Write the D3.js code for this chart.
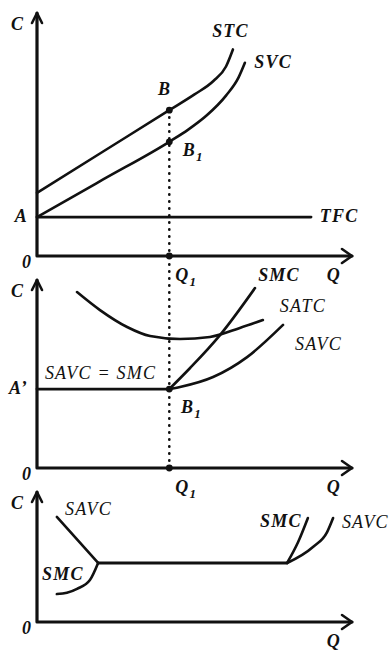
<!DOCTYPE html>
<html>
<head>
<meta charset="utf-8">
<script src="https://cdn.jsdelivr.net/npm/d3@7"></script>
<style>
	body { margin: 0; background: #fff; }
	svg { display: block; }
	text { font-family: 'Liberation Serif', 'Times New Roman', serif; font-style: italic; font-size: 18px; fill: #111; letter-spacing: 1.2px; }
	.b { font-weight: bold; }
</style>
</head>
<body>
<svg id="chart" width="392" height="651"></svg>
<script>

// top panel: total costs
const q1 = 42
const tfc = 16
const tfcEnd = 87
const stc = [[0, 26], [21, 43], [42, 60], [50, 66.5], [56, 72], [60, 78], [62.2, 85]]
const svc = [[0, 16], [21, 31.5], [42, 47], [48, 52], [54, 58], [60, 66], [64, 73.5], [66, 79.5]]

// middle panel: unit costs
const flatLevel = 42
const satc = [[12.7, 93.6], [20, 84], [28.6, 75], [35.9, 70.2], [45.4, 68.6], [54.9, 69.7], [64.4, 74.5], [71.7, 78.7]]
const smc = [[42, 42], [48.6, 53.2], [58.1, 70.7], [69.2, 95.7]]
const savc = [[42, 42], [45.4, 43.1], [55.9, 48.4], [66.7, 59], [78.1, 76.1]]

// bottom panel: flat stretch
const savcFall = [[6.3, 80.8], [19.4, 45.4]]
const plateau = [[19.4, 45.4], [79.4, 45.4]]
const savcRise = [[79.4, 45.4], [87.6, 57.7], [92.1, 69.2], [94, 80]]
const smcLow = [[6.3, 21.5], [9.5, 22.5], [12.7, 25.5], [16.8, 32.3], [19.4, 45.4]]
const smcRise = [[79.4, 45.4], [82.9, 61.5], [86, 80]]

const labels = [
	{ p: 0, t: 'STC', x: 55.6, y: 90, b: true },
	{ p: 0, t: 'SVC', x: 69, y: 77.4, b: true },
	{ p: 0, t: 'B', x: 38.4, y: 66.3, b: true },
	{ p: 0, t: 'B', s: '1', x: 46.3, y: 41.2, b: true },
	{ p: 0, t: 'TFC', x: 89.8, y: 14, b: true },
	{ p: 1, t: 'SMC', x: 70.2, y: 99.5, b: true },
	{ p: 1, t: 'SATC', x: 77.1, y: 83 },
	{ p: 1, t: 'SAVC', x: 81.9, y: 62.8 },
	{ p: 1, t: 'SAVC = SMC', x: 2.5, y: 47.3 },
	{ p: 1, t: 'B', s: '1', x: 45.7, y: 29.3, b: true },
	{ p: 2, t: 'SAVC', x: 8.9, y: 82.3 },
	{ p: 2, t: 'SMC', x: 1.6, y: 32.3, b: true },
	{ p: 2, t: 'SMC', x: 70.8, y: 73, b: true },
	{ p: 2, t: 'SAVC', x: 96.8, y: 72.3 }
]

const panels = [
	{ top: 13, base: 256, origin: 'A', level: tfc, q: true },
	{ top: 280, base: 468, origin: 'A\u2019', level: flatLevel, q: true },
	{ top: 492, base: 622, q: false }
]

const x = d3.scaleLinear().domain([0, 100]).range([37, 352])
panels.forEach(p => {
	p.y = d3.scaleLinear().domain([0, 100]).range([p.base, p.top])
})

const svg = d3.select('#chart')
svg.append('rect').attr('width', 392).attr('height', 651).attr('fill', '#fff')

const curve = (p, pts, c) => d3.line()
	.x(d => x(d[0]))
	.y(d => p.y(d[1]))
	.curve(c || d3.curveMonotoneX)(pts)

const stroke = (sel, w) => sel
	.style('fill', 'none')
	.style('stroke', '#111')
	.attr('stroke-width', w)
	.attr('stroke-linecap', 'round')
	.attr('stroke-linejoin', 'round')

const addText = (t, sub, px, py, bold, anchor) => {
	const el = svg.append('text')
		.attr('x', px)
		.attr('y', py)
		.attr('class', bold ? 'b' : null)
		.attr('text-anchor', anchor || 'start')
		.text(t)
	if (sub) {
		el.append('tspan')
			.attr('dy', 5)
			.style('font-size', '13px')
			.text(sub)
	}
}

// axes with open arrow heads
panels.forEach(p => {
	const x0 = x(0), y0 = p.y(0)
	svg.append('path')
		.attr('d', `M${x0},${p.top}V${y0}H${x(100)}`)
		.call(stroke, 3.2)
	svg.append('path')
		.attr('d', `M${x0 - 5},${p.top + 10}L${x0},${p.top}L${x0 + 5},${p.top + 10}`)
		.call(stroke, 2.6)
	svg.append('path')
		.attr('d', `M${x(100) - 10},${y0 - 7}L${x(100)},${y0}L${x(100) - 10},${y0 + 7}`)
		.call(stroke, 2.6)
	addText('C', null, x0 - 26, p.top + 17, true)
	addText('0', null, x0 - 15, y0 + 12, true)
	addText('Q', null, x(92), y0 + 25, true)
	if (p.q) addText('Q', '1', x(q1) + 6, y0 + 25, true)
	if (p.origin) addText(p.origin, null, x0 - 9, p.y(p.level) + 5, true, 'end')
})

const [p1, p2, p3] = panels

// top panel
svg.append('path').attr('d', curve(p1, [[0, tfc], [tfcEnd, tfc]], d3.curveLinear)).call(stroke, 2.8)
svg.append('path').attr('d', curve(p1, stc)).call(stroke, 2.6)
svg.append('path').attr('d', curve(p1, svc)).call(stroke, 2.6)

// middle panel
svg.append('path').attr('d', curve(p2, [[0, flatLevel], [q1, flatLevel]], d3.curveLinear)).call(stroke, 2.8)
svg.append('path').attr('d', curve(p2, satc)).call(stroke, 2.6)
svg.append('path').attr('d', curve(p2, smc)).call(stroke, 2.6)
svg.append('path').attr('d', curve(p2, savc)).call(stroke, 2.6)

// bottom panel
svg.append('path').attr('d', curve(p3, savcFall, d3.curveLinear)).call(stroke, 2.6)
svg.append('path').attr('d', curve(p3, plateau, d3.curveLinear)).call(stroke, 2.8)
svg.append('path').attr('d', curve(p3, savcRise)).call(stroke, 2.6)
svg.append('path').attr('d', curve(p3, smcLow)).call(stroke, 2.6)
svg.append('path').attr('d', curve(p3, smcRise)).call(stroke, 2.6)

// dotted guide at Q1
const atQ = arr => arr.find(d => d[0] === q1)[1]
svg.append('line')
	.attr('x1', x(q1))
	.attr('x2', x(q1))
	.attr('y1', p1.y(atQ(stc)))
	.attr('y2', p2.y(0))
	.style('stroke', '#111')
	.attr('stroke-width', 2.6)
	.attr('stroke-linecap', 'round')
	.attr('stroke-dasharray', '0.5,6.5')

const dots = [
	{ p: p1, v: atQ(stc) },
	{ p: p1, v: atQ(svc) },
	{ p: p1, v: 0 },
	{ p: p2, v: flatLevel },
	{ p: p2, v: 0 }
]
svg.selectAll('circle.dot')
	.data(dots)
	.enter()
	.append('circle')
	.attr('class', 'dot')
	.attr('cx', x(q1))
	.attr('cy', d => d.p.y(d.v))
	.attr('r', 3.4)
	.style('fill', '#111')

labels.forEach(l => {
	addText(l.t, l.s, x(l.x), panels[l.p].y(l.y), l.b)
})

</script>
</body>
</html>
